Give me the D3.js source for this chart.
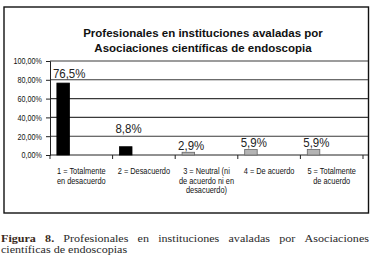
<!DOCTYPE html>
<html>
<head>
<meta charset="utf-8">
<script src="https://cdn.jsdelivr.net/npm/d3@7"></script>
<style>
  body { margin: 0; background: #fff; }
  svg { display: block; }
</style>
</head>
<body>
<svg id="chart"></svg>
<script>
// values
const categories = [
    ["1 = Totalmente", "en desacuerdo"],
    ["2 = Desacuerdo"],
    ["3 = Neutral (ni", "de acuerdo ni en", "desacuerdo)"],
    ["4 = De acuerdo"],
    ["5 = Totalmente", "de acuerdo"]
];
const values = [76.5, 8.8, 2.9, 5.9, 5.9];
const valueLabels = ["76,5%", "8,8%", "2,9%", "5,9%", "5,9%"];
const yTicks = [0, 20, 40, 60, 80, 100];
const titleLines = ["Profesionales en instituciones avaladas por", "Asociaciones científicas de endoscopia"];
const captionBold = ["Figura", "8."];
const captionLines = ["Profesionales en instituciones avaladas por Asociaciones", "científicas de endoscopias"];

// per-bar label nudges (label placement in the original is uneven)
const labelLift = [5, 13.5, 2.3, 2.5, 2.5];
const barFills = ["#000", "#000", "#b4b4b4", "#b4b4b4", "#b4b4b4"];

const W = 370, H = 263;
const svg = d3.select("#chart").attr("width", W).attr("height", H);

// most text in the figure is horizontally compressed
function squeeze(sel, k) {
    sel.each(function() {
        let w = this.getComputedTextLength();
        d3.select(this).attr("textLength", w * k).attr("lengthAdjust", "spacingAndGlyphs");
    });
}

const sans = "'Liberation Sans', Arial, sans-serif";

// frame
svg.append("rect")
    .attr("x", 4).attr("y", 7)
    .attr("width", 364.5).attr("height", 206)
    .attr("fill", "none").attr("stroke", "#111").attr("stroke-width", 1.4);

// title
svg.selectAll(".title")
    .data(titleLines)
    .join("text")
    .attr("class", "title")
    .attr("x", 203)
    .attr("y", (d, i) => 37 + i * 15)
    .attr("text-anchor", "middle")
    .attr("font-family", sans)
    .attr("font-weight", "bold")
    .attr("font-size", 11.5)
    .attr("fill", "#111")
    .text(d => d);

const plotLeft = 50, plotRight = 363, gridRight = 368;
const plotTop = 61, plotBottom = 155;

const x = d3.scaleBand()
    .domain(d3.range(values.length))
    .range([plotLeft, plotRight]);

const y = d3.scaleLinear()
    .domain([0, 100])
    .range([plotBottom, plotTop]);

// gridlines
svg.append("g")
    .selectAll("line")
    .data(yTicks.filter(d => d > 0))
    .join("line")
    .attr("x1", plotLeft).attr("x2", gridRight)
    .attr("y1", d => y(d)).attr("y2", d => y(d))
    .attr("stroke", "#3a3a3a").attr("stroke-width", 1.1);

// y axis
const yAxis = svg.append("g")
    .attr("transform", `translate(${plotLeft},0)`)
    .call(d3.axisLeft(y).tickValues(yTicks).tickSize(4).tickPadding(4)
        .tickFormat(d => d3.format(".2f")(d).replace(".", ",") + "%"));
yAxis.select(".domain").attr("stroke", "#222");
yAxis.selectAll(".tick line").attr("stroke", "#222");
yAxis.selectAll("text")
    .attr("font-family", sans)
    .attr("font-size", 9)
    .attr("fill", "#111")
    .call(squeeze, 0.8);

// x axis
const xAxis = svg.append("g")
    .attr("transform", `translate(0,${plotBottom})`);
xAxis.append("line")
    .attr("x1", plotLeft).attr("x2", gridRight)
    .attr("stroke", "#222");
xAxis.selectAll(".xt")
    .data(d3.range(values.length + 1))
    .join("line")
    .attr("class", "xt")
    .attr("x1", i => plotLeft + i * x.step())
    .attr("x2", i => plotLeft + i * x.step())
    .attr("y1", 0).attr("y2", 4)
    .attr("stroke", "#222");

// bars
const barOff = x.step() * 0.11, barW = x.step() * 0.2;
svg.append("g")
    .selectAll("rect")
    .data(values)
    .join("rect")
    .attr("x", (d, i) => x(i) + barOff)
    .attr("y", d => y(d))
    .attr("width", barW)
    .attr("height", d => plotBottom - y(d))
    .attr("fill", (d, i) => barFills[i])
    .attr("stroke", (d, i) => i < 2 ? "#000" : "#666")
    .attr("stroke-width", 0.8);

// value labels
svg.append("g")
    .selectAll("text")
    .data(values)
    .join("text")
    .attr("x", (d, i) => x(i) + barOff - 4)
    .attr("y", (d, i) => y(d) - labelLift[i])
    .attr("font-family", sans)
    .attr("font-size", 13.5)
    .attr("fill", "#222")
    .text((d, i) => valueLabels[i])
    .call(squeeze, 0.85);

// category labels
const cat = svg.append("g")
    .selectAll("text")
    .data(categories)
    .join("text")
    .attr("text-anchor", "middle")
    .attr("font-family", sans)
    .attr("font-size", 9)
    .attr("fill", "#111");
cat.each(function(lines, i) {
    d3.select(this).selectAll("tspan")
        .data(lines)
        .join("tspan")
        .attr("x", x(i) + x.step() / 2)
        .attr("y", (d, j) => 174 + j * 9.6)
        .text(d => d)
        .call(squeeze, 0.82);
});

// caption, first line justified word by word
const serif = "'Liberation Serif', 'DejaVu Serif', serif";
const capSize = 11.2;
const words = captionBold.map(t => ({t: t, b: true}))
    .concat(captionLines[0].split(" ").map(t => ({t: t, b: false})));
const capWords = svg.append("g")
    .selectAll("text")
    .data(words)
    .join("text")
    .attr("y", 241.6)
    .attr("font-family", serif)
    .attr("font-size", capSize)
    .attr("font-weight", d => d.b ? "bold" : null)
    .attr("fill", d => d.b ? "#3a2a20" : "#2a2a2a")
    .text(d => d.t)
    .call(squeeze, 1.08);
let widths = [];
capWords.each(function() { widths.push(+this.getAttribute("textLength")); });
const left = 1, right = 369;
const gap = (right - left - d3.sum(widths)) / (words.length - 1);
let cx = left;
capWords.attr("x", (d, i) => {
    let p = cx;
    cx += widths[i] + gap;
    return p;
});

svg.append("text")
    .attr("x", left)
    .attr("y", 253.4)
    .attr("font-family", serif)
    .attr("font-size", capSize)
    .attr("fill", "#2a2a2a")
    .text(captionLines[1])
    .call(squeeze, 1.08);
</script>
</body>
</html>
